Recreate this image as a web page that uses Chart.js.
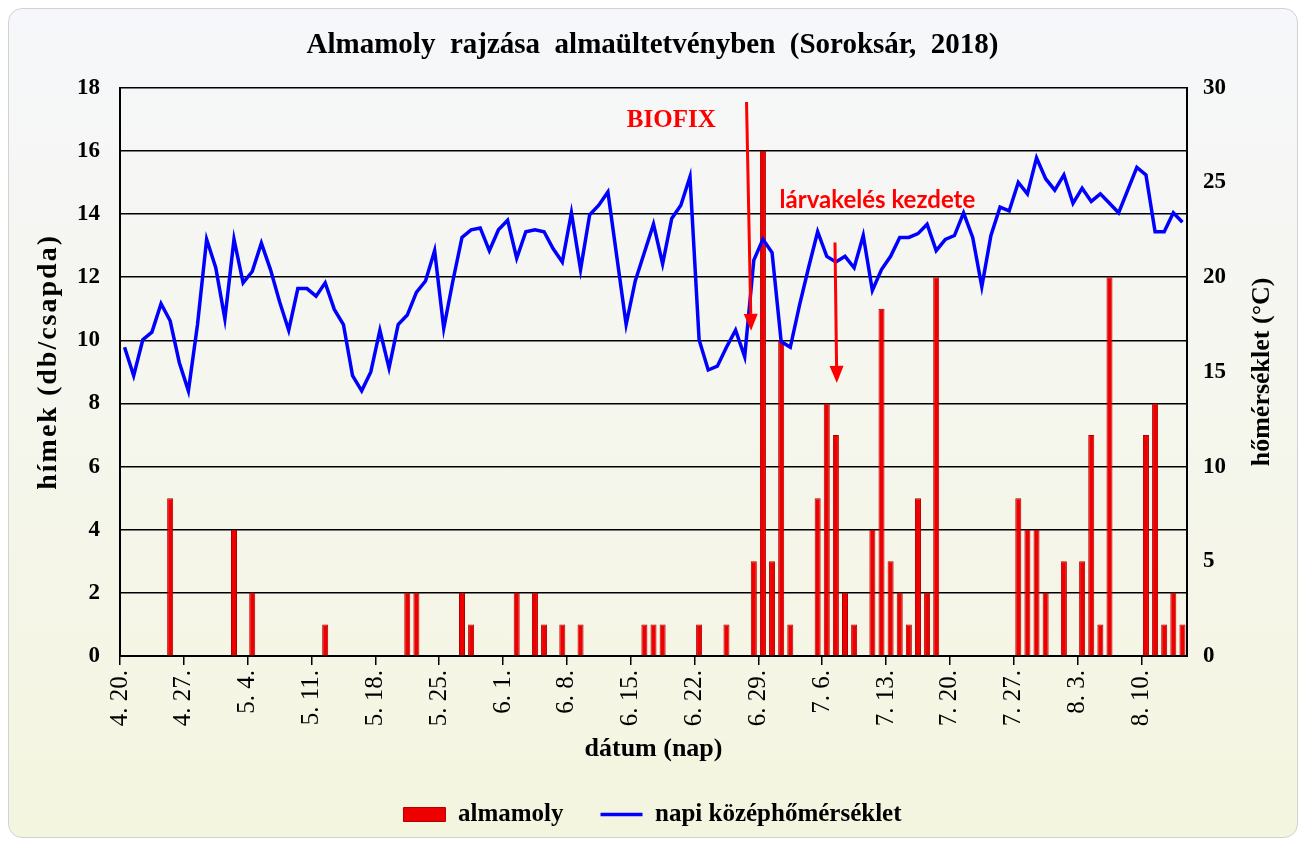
<!DOCTYPE html>
<html>
<head>
<meta charset="utf-8">
<script src="https://cdn.jsdelivr.net/npm/chart.js@4.4.1/dist/chart.umd.min.js"></script>
<style>
  html, body { margin: 0; padding: 0; background: #fff; }
  #frame {
    position: absolute; left: 8px; top: 8px; width: 1288px; height: 828px;
    border: 1px solid #d2d2d2; border-radius: 14px;
    background: linear-gradient(#f6f7fa, #f4f5df);
  }
  #wrap { position: absolute; left: 0; top: 0; width: 1305px; height: 841px; }
</style>
</head>
<body>
<div id="frame"></div>
<div id="wrap"><canvas id="c" width="1305" height="841"></canvas></div>
<script>
// one value per day, 4.20. -> 8.14.
const tickLabels = ['4. 20.', '4. 27.', '5. 4.', '5. 11.', '5. 18.', '5. 25.', '6. 1.', '6. 8.',
  '6. 15.', '6. 22.', '6. 29.', '7. 6.', '7. 13.', '7. 20.', '7. 27.', '8. 3.', '8. 10.'];

// almamoly (db/csapda)
const moths = [
  0, 0, 0, 0, 0, 5, 0, 0, 0, 0,
  0, 0, 4, 0, 2, 0, 0, 0, 0, 0,
  0, 0, 1, 0, 0, 0, 0, 0, 0, 0,
  0, 2, 2, 0, 0, 0, 0, 2, 1, 0,
  0, 0, 0, 2, 0, 2, 1, 0, 1, 0,
  1, 0, 0, 0, 0, 0, 0, 1, 1, 1,
  0, 0, 0, 1, 0, 0, 1, 0, 0, 3,
  16, 3, 10, 1, 0, 0, 5, 8, 7, 2,
  1, 0, 4, 11, 3, 2, 1, 5, 2, 12,
  0, 0, 0, 0, 0, 0, 0, 0, 5, 4,
  4, 2, 0, 3, 0, 3, 7, 1, 12, 0,
  0, 0, 7, 8, 1, 2, 1
];

// napi középhőmérséklet (°C)
const temps = [
  16.3, 14.8, 16.7, 17.1, 18.6, 17.7, 15.5, 14.0, 17.5, 22.0,
  20.5, 17.8, 22.0, 19.7, 20.3, 21.8, 20.4, 18.7, 17.2, 19.4,
  19.4, 19.0, 19.7, 18.3, 17.5, 14.8, 14.0, 15.0, 17.2, 15.2,
  17.5, 18.0, 19.2, 19.8, 21.4, 17.3, 19.8, 22.1, 22.5, 22.6,
  21.4, 22.5, 23.0, 21.0, 22.4, 22.5, 22.4, 21.5, 20.8, 23.4,
  20.4, 23.3, 23.8, 24.5, 21.0, 17.5, 19.8, 21.3, 22.8, 20.7,
  23.1, 23.8, 25.3, 16.7, 15.1, 15.3, 16.3, 17.2, 15.8, 20.9,
  22.0, 21.3, 16.6, 16.3, 18.5, 20.5, 22.4, 21.1, 20.8, 21.1,
  20.5, 22.2, 19.3, 20.4, 21.1, 22.1, 22.1, 22.3, 22.8, 21.4,
  22.0, 22.2, 23.4, 22.1, 19.5, 22.2, 23.7, 23.5, 25.0, 24.4,
  26.3, 25.2, 24.6, 25.4, 23.9, 24.7, 24.0, 24.4, 23.9, 23.4,
  24.6, 25.8, 25.4, 22.4, 22.4, 23.4, 22.9
];

// annotations, in axis units (day index, hímek)
const arrows = [
  { x0: 68.7, y0: 17.55, x1: 69.2, y1: 10.3 },
  { x0: 78.4, y0: 13.1, x1: 78.6, y1: 8.65 }
];
const notes = [
  { text: 'BIOFIX', x: 60.45, y: 16.95, font: 'bold 25px "Liberation Serif"' },
  { text: 'lárvakelés kezdete', x: 83.05, y: 14.45, font: 'bold 24px Lato' }
];

const serif = '"Liberation Serif", "Times New Roman", serif';
const days = moths.length;

const notePlugin = {
  id: 'notes',
  afterDatasetsDraw(chart) {
    const { ctx, scales: { x, y } } = chart;
    ctx.save();
    ctx.strokeStyle = '#ff0000';
    ctx.fillStyle = '#ff0000';
    ctx.lineWidth = 3;
    arrows.forEach(a => {
      const px0 = x.getPixelForValue(a.x0), py0 = y.getPixelForValue(a.y0);
      const px1 = x.getPixelForValue(a.x1), py1 = y.getPixelForValue(a.y1);
      const ang = Math.atan2(py1 - py0, px1 - px0);
      const head = 17, half = 7;
      const bx = px1 - Math.cos(ang) * head, by = py1 - Math.sin(ang) * head;
      ctx.beginPath();
      ctx.moveTo(px0, py0);
      ctx.lineTo(bx, by);
      ctx.stroke();
      ctx.beginPath();
      ctx.moveTo(px1, py1);
      ctx.lineTo(bx + Math.sin(ang) * half, by - Math.cos(ang) * half);
      ctx.lineTo(bx - Math.sin(ang) * half, by + Math.cos(ang) * half);
      ctx.closePath();
      ctx.fill();
    });
    ctx.textAlign = 'center';
    ctx.textBaseline = 'middle';
    notes.forEach(n => {
      ctx.font = n.font;
      ctx.fillText(n.text, x.getPixelForValue(n.x), y.getPixelForValue(n.y));
    });
    ctx.restore();

    // both axis titles read upwards
    const area = chart.chartArea;
    const midY = (area.top + area.bottom) / 2;
    ctx.save();
    ctx.fillStyle = '#000';
    ctx.textAlign = 'center';
    ctx.textBaseline = 'middle';
    ctx.font = 'bold 28px ' + serif;
    ctx.letterSpacing = '2px';
    ctx.translate(49, midY - 10);
    ctx.rotate(-Math.PI / 2);
    ctx.fillText('hímek (db/csapda)', 0, 0);
    ctx.restore();

    ctx.save();
    ctx.fillStyle = '#000';
    ctx.textAlign = 'center';
    ctx.textBaseline = 'middle';
    ctx.font = 'bold 26px ' + serif;
    ctx.translate(1262, midY);
    ctx.rotate(-Math.PI / 2);
    ctx.fillText('hőmérséklet (°C)', 0, 0);
    ctx.restore();
  }
};

new Chart(document.getElementById('c'), {
  type: 'bar',
  data: {
    datasets: [
      {
        type: 'bar',
        label: 'almamoly',
        data: moths.map((v, i) => ({ x: i + 0.5, y: v })),
        backgroundColor: '#ee0000',
        borderColor: '#b00000',
        borderWidth: 1,
        barPercentage: 0.66,
        categoryPercentage: 1,
        yAxisID: 'y',
        order: 2
      },
      {
        type: 'line',
        label: 'napi középhőmérséklet',
        data: temps.map((v, i) => ({ x: i + 0.5, y: v })),
        borderColor: '#0000ff',
        backgroundColor: '#0000ff',
        borderWidth: 3.5,
        pointRadius: 0,
        tension: 0,
        yAxisID: 'y1',
        order: 1
      }
    ]
  },
  options: {
    responsive: false,
    animation: false,
    devicePixelRatio: 1,
    layout: { padding: { top: 0, left: 0, right: 0, bottom: 4 } },
    scales: {
      x: {
        type: 'linear',
        min: 0,
        max: days,
        offset: false,
        afterBuildTicks: s => { s.ticks = tickLabels.map((_, i) => ({ value: i * 7 })); },
        afterFit: s => { s.height = 109; },
        ticks: {
          autoSkip: false,
          minRotation: 90,
          maxRotation: 90,
          padding: 5,
          color: '#000',
          font: { family: serif, size: 25 },
          callback: v => tickLabels[Math.round(v / 7)]
        },
        grid: { offset: false, drawOnChartArea: false, drawTicks: true, tickLength: 9, color: '#000', lineWidth: 1.5 },
        border: { color: '#000', width: 2 },
        title: {
          display: true, text: 'dátum (nap)', color: '#000',
          font: { family: serif, size: 26, weight: 'bold' },
          padding: { top: 0, bottom: 0 }
        }
      },
      y: {
        position: 'left',
        min: 0,
        max: 18,
        afterFit: s => { s.width = 120; },
        ticks: { stepSize: 2, padding: 20, color: '#000', font: { family: serif, size: 23, weight: 'bold' } },
        grid: { color: '#000', lineWidth: 1.5, drawTicks: false },
        border: { color: '#000', width: 2 }
      },
      y1: {
        position: 'right',
        min: 0,
        max: 30,
        afterFit: s => { s.width = 118; },
        ticks: { stepSize: 5, padding: 16, color: '#000', font: { family: serif, size: 23, weight: 'bold' } },
        grid: { drawOnChartArea: false, drawTicks: false },
        border: { color: '#000', width: 2 }
      }
    },
    plugins: {
      title: {
        display: true,
        text: 'Almamoly  rajzása  almaültetvényben  (Soroksár,  2018)',
        color: '#000',
        font: { family: serif, size: 29, weight: 'bold' },
        padding: { top: 28, bottom: 25 }
      },
      legend: {
        position: 'bottom',
        labels: {
          usePointStyle: true,
          pointStyleWidth: 42,
          boxHeight: 14,
          padding: 37,
          color: '#000',
          font: { family: serif, size: 25, weight: 'bold' },
          generateLabels: chart => chart.data.datasets.map((ds, i) => ({
            text: ds.label,
            fillStyle: ds.backgroundColor,
            strokeStyle: ds.type === 'bar' ? '#b00000' : ds.borderColor,
            lineWidth: ds.type === 'bar' ? 1 : 3.5,
            pointStyle: ds.type === 'bar' ? 'rect' : 'line',
            fontColor: '#000',
            datasetIndex: i,
            hidden: false
          }))
        }
      },
      tooltip: { enabled: false }
    }
  },
  plugins: [notePlugin]
});
</script>
</body>
</html>
